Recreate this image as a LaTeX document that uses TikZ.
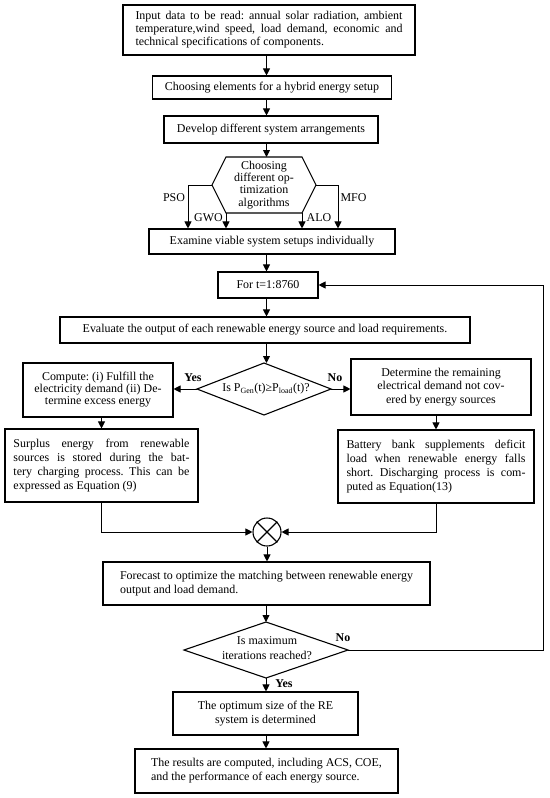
\documentclass[tikz,border=0pt]{standalone}
\usepackage{fontspec}
\setmainfont{Liberation Serif}
\usetikzlibrary{arrows.meta}
\newcommand\jline[2]{\makebox[#1][s]{#2}}
\frenchspacing
\begin{document}
\begin{tikzpicture}[x=1bp,y=-1bp,
  box/.style={draw,line width=1.1bp,inner sep=0pt,align=center},
  arr/.style={line width=0.9bp,-{Triangle[length=7bp,width=7bp]}},
  ln/.style={line width=0.9bp},
  lbl/.style={inner sep=0pt},
  yn/.style={inner sep=0pt,font=\bfseries\fontsize{12}{13}\selectfont},
  every node/.append style={font=\fontsize{12}{13}\selectfont}
]
\useasboundingbox (0,0) rectangle (550,798);
\coordinate (sp) at (266.5,0);

\node[box,align=left,minimum width=292bp,minimum height=50bp] (b1) at (269,30)
 {\jline{267bp}{Input data to be read: annual solar radiation, ambient}\\
  \jline{267bp}{temperature,wind speed, load demand, economic and}\\
  technical specifications of components.};
\node[box,minimum width=239bp,minimum height=23bp] (b2) at (272,87.5) {Choosing elements for a hybrid energy setup};
\node[box,minimum width=214bp,minimum height=27bp] (b3) at (271,129.5) {Develop different system arrangements};

% hexagon
\coordinate (hl) at (212,185);
\coordinate (htl) at (226,157);
\coordinate (htr) at (302,157);
\coordinate (hr) at (316,185);
\coordinate (hbr) at (302,213);
\coordinate (hbl) at (226,213);
\draw[line width=1.1bp] (hl) -- (htl) -- (htr) -- (hr) -- (hbr) -- (hbl) -- cycle;
\node[lbl,align=center,font=\fontsize{12}{12.3}\selectfont] (hx) at (264,185) {Choosing\\different op-\\timization\\algorithms};

\node[box,minimum width=246bp,minimum height=25bp] (b4) at (272,241.5) {Examine viable system setups individually};
\coordinate (xpso) at (188,0);
\coordinate (xmfo) at (338,0);
\draw[arr] (hl) -| (xpso |- b4.north);
\draw[arr] (hbl) -- (hbl |- b4.north);
\draw[arr] (hbr) -- (hbr |- b4.north);
\draw[arr] (hr) -| (xmfo |- b4.north);
\node[lbl] (pso) at (174,198) {PSO};
\node[lbl] (gwo) at (208.5,218) {GWO};
\node[lbl] (alo) at (319,218) {ALO};
\node[lbl] (mfo) at (353.5,198) {MFO};

\node[box,minimum width=100bp,minimum height=26bp] (b5) at (268,285) {For t=1:8760};
\node[box,minimum width=410bp,minimum height=26bp] (b6) at (265,330) {Evaluate the output of each renewable energy source and load requirements.};

% decision 1
\coordinate (d1t) at (264,363);
\coordinate (d1l) at (197,389);
\coordinate (d1r) at (331,389);
\coordinate (d1b) at (264,415);
\draw[line width=1.1bp] (d1t) -- (d1r) -- (d1b) -- (d1l) -- cycle;
\node[lbl] (d1) at (266,389) {Is P\textsubscript{Gen}(t)≥P\textsubscript{load}(t)?};
\node[yn] (yes1) at (193,378) {Yes};
\node[yn] (no1) at (335,378) {No};

\node[box,minimum width=150bp,minimum height=54bp,font=\fontsize{12}{12}\selectfont] (cb) at (98,390)
 {Compute: (i) Fulfill the\\electricity demand (ii) De-\\termine excess energy};
\node[box,minimum width=180bp,minimum height=56bp,font=\fontsize{12}{13.8}\selectfont] (db) at (441,387)
 {Determine the remaining\\electrical demand not cov-\\ered by energy sources};

\node[box,align=left,minimum width=193bp,minimum height=73bp,font=\fontsize{12}{14.2}\selectfont] (sb) at (101.5,465.5)
 {\jline{176bp}{Surplus energy from renewable}\\
  \jline{176bp}{sources is stored during the bat-}\\
  \jline{176bp}{tery charging process. This can be}\\
  expressed as Equation (9)};
\node[box,align=left,minimum width=196bp,minimum height=73bp,font=\fontsize{12}{14.3}\selectfont] (bb) at (436,466.5)
 {\jline{179bp}{Battery bank supplements deficit}\\
  \jline{179bp}{load when renewable energy falls}\\
  \jline{179bp}{short. Discharging process is com-}\\
  puted as Equation(13)};

\node[draw,circle,line width=1.1bp,minimum size=28bp,inner sep=0pt] (mx) at (267,532) {};
\draw[line width=1.1bp] (mx.north west) -- (mx.south east);
\draw[line width=1.1bp] (mx.north east) -- (mx.south west);

\node[box,align=left,minimum width=327bp,minimum height=43bp,font=\fontsize{12}{14.5}\selectfont] (fb) at (266.5,583.5)
 {Forecast to optimize the matching between renewable energy\\output and load demand.};

% decision 2
\coordinate (d2t) at (266,622);
\coordinate (d2l) at (184,650);
\coordinate (d2r) at (348,650);
\coordinate (d2b) at (266,678);
\draw[line width=1.1bp] (d2t) -- (d2r) -- (d2b) -- (d2l) -- cycle;
\node[lbl,align=center,font=\fontsize{12}{15}\selectfont] (d2) at (267,648) {Is maximum\\iterations reached?};
\node[yn] (no2) at (343,638) {No};
\node[yn] (yes2) at (284,684) {Yes};

\node[box,minimum width=185bp,minimum height=43bp,font=\fontsize{12}{14}\selectfont] (ob) at (265.5,713.5)
 {The optimum size of the RE\\system is determined};
\node[box,align=left,minimum width=263bp,minimum height=44bp,font=\fontsize{12}{14}\selectfont] (rb) at (266.5,771)
 {The results are computed, including ACS, COE,\\and the performance of each energy source.};

% connectors
\draw[arr] (b1.south -| sp) -- (b2.north -| sp);
\draw[arr] (b2.south -| sp) -- (b3.north -| sp);
\draw[arr] (b3.south -| sp) -- (sp |- htl);
\draw[arr] (b4.south -| sp) -- (b5.north -| sp);
\draw[arr] (b5.south -| sp) -- (b6.north -| sp);
\draw[arr] (b6.south -| sp) -- (sp |- d1t);
\draw[arr] (d1l) -- (d1l -| cb.east);
\draw[arr] (d1r) -- (d1r -| db.west);
\draw[arr] (cb.south -| sb.north) -- (sb.north);
\draw[arr] (db.south -| bb.north) -- (bb.north);
\draw[arr] (sb.south) |- (mx.west);
\draw[arr] (bb.south) |- (mx.east);
\draw[arr] (mx.south) -- (mx.south |- fb.north);
\draw[arr] (fb.south -| d2t) -- (d2t);
\coordinate (lp) at (543,0);
\draw[arr] (d2r) -| (lp |- b5.east) -- (b5.east);
\draw[arr] (d2b) -- (d2b |- ob.north);
\draw[arr] (ob.south -| d2b) -- (rb.north -| d2b);
\end{tikzpicture}
\end{document}
